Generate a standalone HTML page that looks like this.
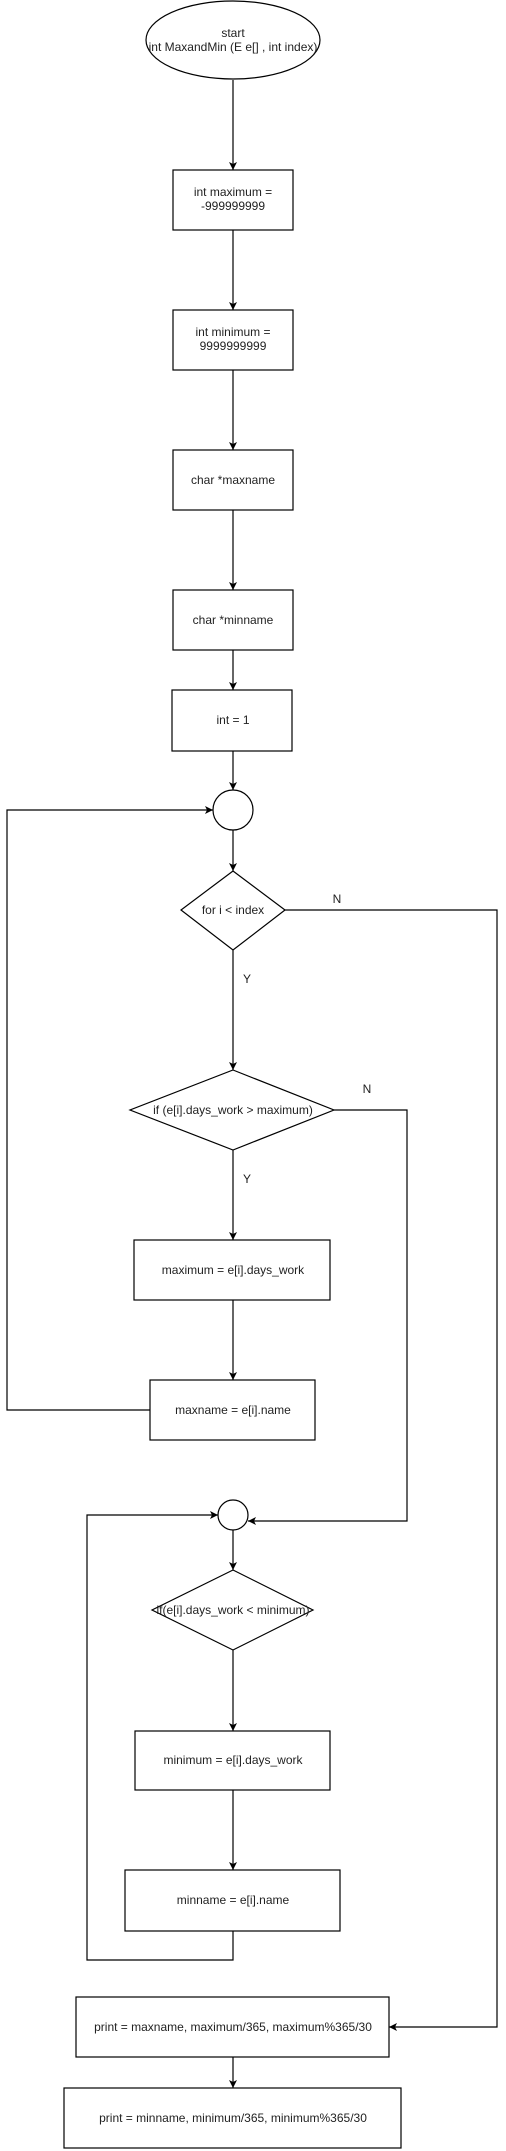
<!DOCTYPE html>
<html><head><meta charset="utf-8"><style>
html,body{margin:0;padding:0;background:#fff;}
svg{display:block;}
text{font-family:"Liberation Sans",Arial,sans-serif;font-size:12px;fill:#222;text-anchor:middle;}
</style></head><body>
<svg width="506" height="2151" viewBox="0 0 506 2151" xmlns="http://www.w3.org/2000/svg">
<defs><marker id="a" markerWidth="10" markerHeight="10" refX="8" refY="5" orient="auto" markerUnits="userSpaceOnUse"><path d="M0,1 L8,5 L0,9 L2,5 Z" fill="#000"/></marker></defs>
<g fill="#fff" stroke="#000" stroke-width="1.2">
<ellipse cx="233" cy="40" rx="87" ry="39"/>
<rect x="173" y="170" width="120" height="60"/>
<rect x="173" y="310" width="120" height="60"/>
<rect x="173" y="450" width="120" height="60"/>
<rect x="173" y="590" width="120" height="60"/>
<rect x="172" y="690" width="120" height="61"/>
<circle cx="233" cy="810" r="20"/>
<polygon points="233,871 285,910 233,950 181,910"/>
<polygon points="233,1070 334,1110 233,1150 130,1110"/>
<rect x="134" y="1240" width="196" height="60"/>
<rect x="150" y="1380" width="165" height="60"/>
<circle cx="233" cy="1515" r="15"/>
<polygon points="233,1570 313,1610 233,1650 152,1610"/>
<rect x="135" y="1731" width="195" height="59"/>
<rect x="125" y="1870" width="215" height="61"/>
<rect x="76" y="1997" width="313" height="60"/>
<rect x="64" y="2088" width="337" height="60"/>
</g>
<g fill="none" stroke="#000" stroke-width="1.2" marker-end="url(#a)">
<path d="M233,80 V170"/>
<path d="M233,230 V310"/>
<path d="M233,370 V450"/>
<path d="M233,510 V590"/>
<path d="M233,650 V690"/>
<path d="M233,751 V790"/>
<path d="M233,830 V871"/>
<path d="M233,950 V1070"/>
<path d="M233,1150 V1240"/>
<path d="M233,1300 V1380"/>
<path d="M150,1410 H7 V810 H213"/>
<path d="M285,910 H497 V2027 H389"/>
<path d="M334,1110 H407 V1521 H248"/>
<path d="M233,1530 V1570"/>
<path d="M233,1650 V1731"/>
<path d="M233,1790 V1870"/>
<path d="M233,1931 V1960 H87 V1515 H218"/>
<path d="M233,2057 V2088"/>
</g>
<text x="233" y="37">start</text>
<text x="233" y="51">int MaxandMin (E e[] , int index)</text>
<text x="233" y="196">int maximum =</text>
<text x="233" y="210">-999999999</text>
<text x="233" y="336">int minimum =</text>
<text x="233" y="350">9999999999</text>
<text x="233" y="484">char *maxname</text>
<text x="233" y="624">char *minname</text>
<text x="233" y="724">int = 1</text>
<text x="233" y="914">for i &lt; index</text>
<text x="337" y="903">N</text>
<text x="247" y="983">Y</text>
<text x="233" y="1114">if (e[i].days_work &gt; maximum)</text>
<text x="367" y="1093">N</text>
<text x="247" y="1183">Y</text>
<text x="233" y="1274">maximum = e[i].days_work</text>
<text x="233" y="1414">maxname = e[i].name</text>
<text x="233" y="1614">if(e[i].days_work &lt; minimum)</text>
<text x="233" y="1764">minimum = e[i].days_work</text>
<text x="233" y="1904">minname = e[i].name</text>
<text x="233" y="2031">print = maxname, maximum/365, maximum%365/30</text>
<text x="233" y="2122">print = minname, minimum/365, minimum%365/30</text>
</svg>
</body></html>
